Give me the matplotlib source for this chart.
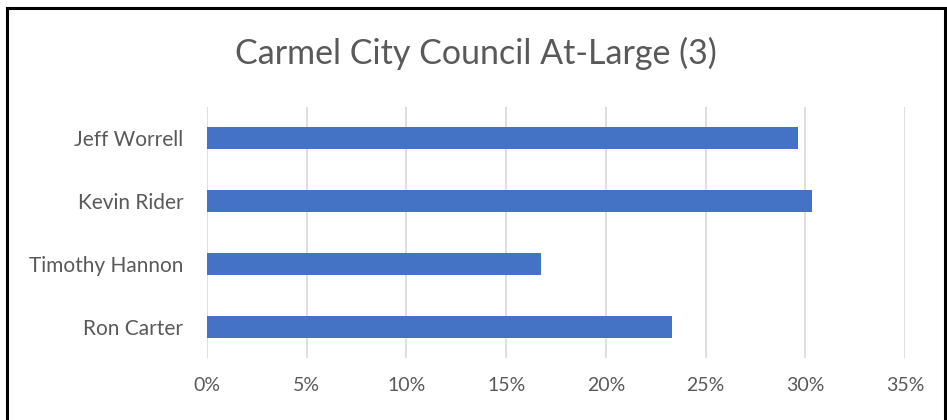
import matplotlib
matplotlib.use("Agg")
import matplotlib.pyplot as plt
from matplotlib.patches import Rectangle
from matplotlib.ticker import FuncFormatter, MultipleLocator

TITLE = "Carmel City Council At-Large (3)"
candidates = ["Jeff Worrell", "Kevin Rider", "Timothy Hannon", "Ron Carter"]
shares = [29.65, 30.35, 16.75, 23.3]   # percent of vote

plt.rcParams["font.family"] = ["Lato", "DejaVu Sans"]

fig = plt.figure(figsize=(9.47, 4.2), dpi=100)
ax = fig.add_axes([0.2186, 0.1476, 0.7371, 0.5976])

ypos = list(range(len(candidates)))
ax.barh(ypos, shares, height=0.35, color="#4472c4", zorder=3)

ax.set_ylim(len(candidates) - 0.5, -0.5)
ax.set_yticks(ypos)
ax.set_yticklabels(candidates)
ax.set_xlim(0, 35)
ax.xaxis.set_major_locator(MultipleLocator(5))
ax.xaxis.set_major_formatter(FuncFormatter(lambda v, p: f"{v:.0f}%"))

ax.grid(axis="x", color="#d9d9d9", linewidth=1.2, zorder=0)
for s in ax.spines.values():
    s.set_visible(False)
ax.tick_params(axis="both", length=0, colors="#595959")
ax.tick_params(axis="x", pad=14, labelsize=14)
ax.tick_params(axis="y", pad=17, labelsize=15)

fig.text(0.503, 0.872, TITLE, ha="center", va="center", fontsize=24.5, color="#595959")

# chart border
fig.patches.append(Rectangle((0.007, -0.05), 0.991, 1.03, transform=fig.transFigure,
                             fill=False, edgecolor="black", linewidth=2.2))

fig.savefig("out.png", dpi=100)
